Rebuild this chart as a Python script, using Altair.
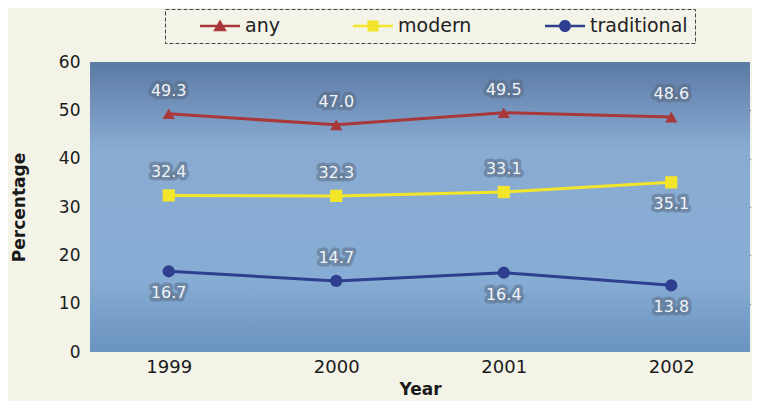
import altair as alt
import pandas as pd

years = ["1999", "2000", "2001", "2002"]
any_vals = [49.3, 47.0, 49.5, 48.6]
modern_vals = [32.4, 32.3, 33.1, 35.1]
traditional_vals = [16.7, 14.7, 16.4, 13.8]
series_names = ["any", "modern", "traditional"]
series_colors = ["#a8383a", "#f2e52a", "#2f3f8f"]
series_shapes = ["triangle-up", "square", "circle"]
y_ticks = [0, 10, 20, 30, 40, 50, 60]
labels_below = {"modern": ["2002"], "traditional": ["1999", "2001", "2002"]}

rows = []
for name, vals in zip(series_names, [any_vals, modern_vals, traditional_vals]):
    for yr, v in zip(years, vals):
        rows.append({"year": yr, "series": name, "value": v,
                     "below": yr in labels_below.get(name, [])})
df = pd.DataFrame(rows)

W, H = 660, 290
FONT = "DejaVu Sans"

# legend symbols: line with marker (unit coords, symbol size 400 -> r = 10px)
legend_paths = [
    "M-2,-0.13H2V0.13H-2Z M0,-0.64L0.68,0.52H-0.68Z",
    "M-2,-0.13H2V0.13H-2Z M-0.56,-0.56H0.56V0.56H-0.56Z",
    "M-2,-0.13H2V0.13H-2Z M-0.6,0A0.6,0.6 0 1,1 0.6,0A0.6,0.6 0 1,1 -0.6,0Z",
]

color_scale = alt.Scale(domain=series_names, range=series_colors)


def by_series(values):
    return (alt.when(alt.datum.series == series_names[0]).then(alt.value(values[0]))
            .when(alt.datum.series == series_names[1]).then(alt.value(values[1]))
            .otherwise(alt.value(values[2])))


x_enc = alt.X("year:O", scale=alt.Scale(type="point", padding=0.47),
              axis=alt.Axis(title="Year", labelAngle=0, grid=False, domain=False,
                            ticks=False, labelPadding=6, titlePadding=5))
y_enc = alt.Y("value:Q", scale=alt.Scale(domain=[0, 60], nice=False, zero=True),
              axis=alt.Axis(title="Percentage", values=y_ticks, domain=False, ticks=False,
                            labelPadding=10, titlePadding=30, grid=True,
                            gridColor=alt.when("datum.value == 0 || datum.value == 60")
                            .then(alt.value("transparent")).otherwise(alt.value("#1c2328")),
                            gridWidth=1.7))

bg = alt.Chart(alt.Data(values=[{}])).mark_rect(
    color=alt.Gradient(
        gradient="linear", x1=0, x2=0, y1=0, y2=1,
        stops=[alt.GradientStop(offset=0, color="#5a7aa6"),
               alt.GradientStop(offset=0.3, color="#8aabd2"),
               alt.GradientStop(offset=0.75, color="#87add5"),
               alt.GradientStop(offset=1, color="#6a93bf")])
).encode(x=alt.value(0), x2=alt.value(W), y=alt.value(0), y2=alt.value(H))

base = alt.Chart(df)

lines = base.mark_line(strokeWidth=3).encode(
    x=x_enc, y=y_enc, detail="series:N", color=by_series(series_colors),
)

points = base.mark_point(filled=True, opacity=1, size=150).encode(
    x=x_enc, y=y_enc, color=by_series(series_colors), shape=by_series(series_shapes),
)

leg = dict(orient="none", legendX=75, legendY=-53, direction="horizontal", columns=3,
           title=None, symbolSize=400, symbolOffset=38, labelOffset=15,
           columnPadding=45, padding=7, symbolOpacity=1, symbolStrokeWidth=0,
           labelFont=FONT, labelFontSize=19, labelColor="#222222",
           strokeColor="#444444", fillColor="#f4f3e8")

legend_layer = base.mark_point(filled=True, opacity=0).encode(
    x=x_enc, y=y_enc,
    color=alt.Color("series:N", scale=color_scale, legend=alt.Legend(**leg)),
    shape=alt.Shape("series:N", scale=alt.Scale(domain=series_names, range=legend_paths),
                    legend=alt.Legend(**leg)),
)

text_style = dict(font=FONT, fontSize=16)
halo_style = dict(stroke="#56677d", strokeWidth=7, strokeOpacity=0.7, strokeJoin="round",
                  color="#56677d", opacity=0.7)


def label_layers(filter_expr, dy):
    halo = base.transform_filter(filter_expr).mark_text(dy=dy, **text_style, **halo_style).encode(
        x=x_enc, y=y_enc, text=alt.Text("value:Q", format=".1f"))
    txt = base.transform_filter(filter_expr).mark_text(dy=dy, color="#f2f5f8", **text_style).encode(
        x=x_enc, y=y_enc, text=alt.Text("value:Q", format=".1f"))
    return [halo, txt]


labels = label_layers("!datum.below", -23) + label_layers("datum.below", 22)

chart = alt.layer(bg, lines, points, legend_layer, *labels).properties(
    width=W, height=H,
    autosize=alt.AutoSizeParams(type="none"),
    padding={"left": 82, "top": 54, "right": 2, "bottom": 49},
    background="#f4f3e8",
).configure_view(stroke=None).configure_axis(
    labelFont=FONT, labelColor="#1a1a1a", titleFont=FONT, titleFontWeight="bold",
    titleFontSize=17, titleColor="#1a1a1a",
).configure_axisX(labelFontSize=18).configure_axisY(labelFontSize=17).configure_legend(
    strokeDash=[4, 2]
)

chart.save("out.html", embed_options={"renderer": "svg", "actions": False})
